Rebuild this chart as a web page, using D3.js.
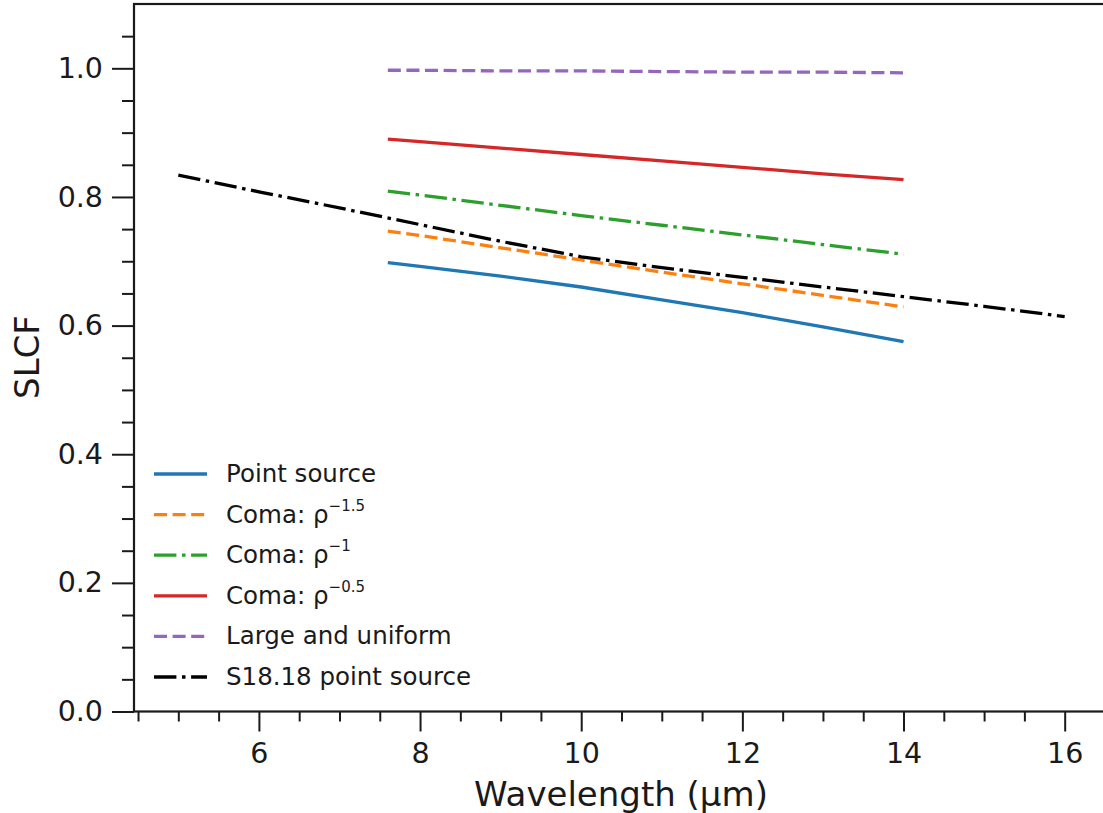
<!DOCTYPE html>
<html>
<head>
<meta charset="utf-8">
<script src="https://cdn.jsdelivr.net/npm/d3@7"></script>
<style>
  html, body { margin: 0; padding: 0; background: #fff; }
  svg { display: block; font-family: "DejaVu Sans", sans-serif; }
</style>
</head>
<body>
<div id="chart"></div>
<script>
// wavelengths (um) for the model curves
const wavelengths = [7.6, 8, 9, 10, 11, 12, 13, 14];
const pointSource = [0.698, 0.692, 0.677, 0.660, 0.640, 0.620, 0.598, 0.575];
const comaRho15 = [0.747, 0.740, 0.721, 0.702, 0.683, 0.665, 0.647, 0.629];
const comaRho1 = [0.809, 0.803, 0.787, 0.771, 0.756, 0.741, 0.726, 0.711];
const comaRho05 = [0.890, 0.886, 0.876, 0.866, 0.856, 0.846, 0.836, 0.827];
const largeUniform = [0.997, 0.997, 0.996, 0.996, 0.995, 0.994, 0.994, 0.993];

// S18.18 curve spans a wider range
const s18Wavelengths = [5, 6, 7, 8, 9, 10, 11, 12, 13, 14, 15, 16];
const s18PointSource = [0.834, 0.808, 0.783, 0.757, 0.731, 0.707, 0.690, 0.675, 0.660, 0.645, 0.630, 0.614];

const xTicks = [6, 8, 10, 12, 14, 16];
const yTicks = [0.0, 0.2, 0.4, 0.6, 0.8, 1.0];

const width = 1103, height = 813;

const svg = d3.select('#chart').append('svg')
    .attr('width', width)
    .attr('height', height);

const x = d3.scaleLinear().domain([4.45, 16.55]).range([134, 1109]);
const y = d3.scaleLinear().domain([0, 1.1]).range([711.5, 4]);

const series = [
    { label: 'Point source', xs: wavelengths, ys: pointSource, color: '#1f77b4', dash: null },
    { label: 'Coma: ρ', sup: '−1.5', xs: wavelengths, ys: comaRho15, color: '#ff7f0e', dash: '13,5.6' },
    { label: 'Coma: ρ', sup: '−1', xs: wavelengths, ys: comaRho1, color: '#2ca02c', dash: '22.4,5.6,3.5,5.6' },
    { label: 'Coma: ρ', sup: '−0.5', xs: wavelengths, ys: comaRho05, color: '#d62728', dash: null },
    { label: 'Large and uniform', xs: wavelengths, ys: largeUniform, color: '#9467bd', dash: '13,5.6' },
    { label: 'S18.18 point source', xs: s18Wavelengths, ys: s18PointSource, color: '#000000', dash: '22.4,5.6,3.5,5.6' }
];

// lines
const line = d3.line().x(d => x(d[0])).y(d => y(d[1]));
series.forEach(s => {
    svg.append('path')
        .datum(s.xs.map((w, i) => [w, s.ys[i]]))
        .attr('d', line)
        .attr('fill', 'none')
        .attr('stroke', s.color)
        .attr('stroke-width', 3.3)
        .attr('stroke-dasharray', s.dash);
});

// axes
const xMinor = d3.range(4.5, 16.51, 0.5).filter(v => !xTicks.includes(v));
const yMinor = d3.range(0.05, 1.1, 0.05).filter(v => !yTicks.some(t => Math.abs(t - v) < 1e-6));

svg.append('g')
    .attr('transform', 'translate(0,711.5)')
    .call(d3.axisBottom(x).tickValues(xMinor).tickSize(10).tickFormat(''))
    .call(g => g.select('.domain').remove());

svg.append('g')
    .attr('transform', 'translate(0,711.5)')
    .call(d3.axisBottom(x).tickValues(xTicks).tickSize(20).tickPadding(11).tickFormat(d3.format('d')))
    .call(g => g.select('.domain').remove());

svg.append('g')
    .attr('transform', 'translate(134,0)')
    .call(d3.axisLeft(y).tickValues(yMinor).tickSize(12).tickFormat(''))
    .call(g => g.select('.domain').remove());

svg.append('g')
    .attr('transform', 'translate(134,0)')
    .call(d3.axisLeft(y).tickValues(yTicks).tickSize(22).tickPadding(9).tickFormat(d3.format('.1f')))
    .call(g => g.select('.domain').remove());

svg.selectAll('.tick line')
    .attr('stroke', '#1a1a1a')
    .attr('stroke-width', 2);

svg.selectAll('.tick text')
    .attr('fill', '#1a1a1a')
    .style('font-size', '28.5px')
    .style('font-family', 'DejaVu Sans');

// spines
svg.append('rect')
    .attr('x', 134)
    .attr('y', 4)
    .attr('width', 1109 - 134)
    .attr('height', 711.5 - 4)
    .attr('fill', 'none')
    .attr('stroke', '#1a1a1a')
    .attr('stroke-width', 2.2);

// axis labels
svg.append('text')
    .attr('x', 621)
    .attr('y', 806)
    .attr('text-anchor', 'middle')
    .style('font-size', '34px')
    .attr('fill', '#1a1a1a')
    .text('Wavelength (μm)');

svg.append('text')
    .attr('transform', 'translate(39,357) rotate(-90)')
    .attr('text-anchor', 'middle')
    .style('font-size', '34px')
    .attr('fill', '#1a1a1a')
    .text('SLCF');

// legend
const legend = svg.append('g');
series.forEach((s, i) => {
    const rowY = 474 + i * 40.6;
    legend.append('line')
        .attr('x1', 154)
        .attr('x2', 207)
        .attr('y1', rowY)
        .attr('y2', rowY)
        .attr('stroke', s.color)
        .attr('stroke-width', 3.3)
        .attr('stroke-dasharray', s.dash);
    const t = legend.append('text')
        .attr('x', 226)
        .attr('y', rowY + 8)
        .style('font-size', '24.5px')
        .attr('fill', '#1a1a1a')
        .text(s.label);
    if (s.sup) {
        t.append('tspan')
            .attr('dy', -12)
            .style('font-size', '15px')
            .text(s.sup);
    }
});
</script>
</body>
</html>
